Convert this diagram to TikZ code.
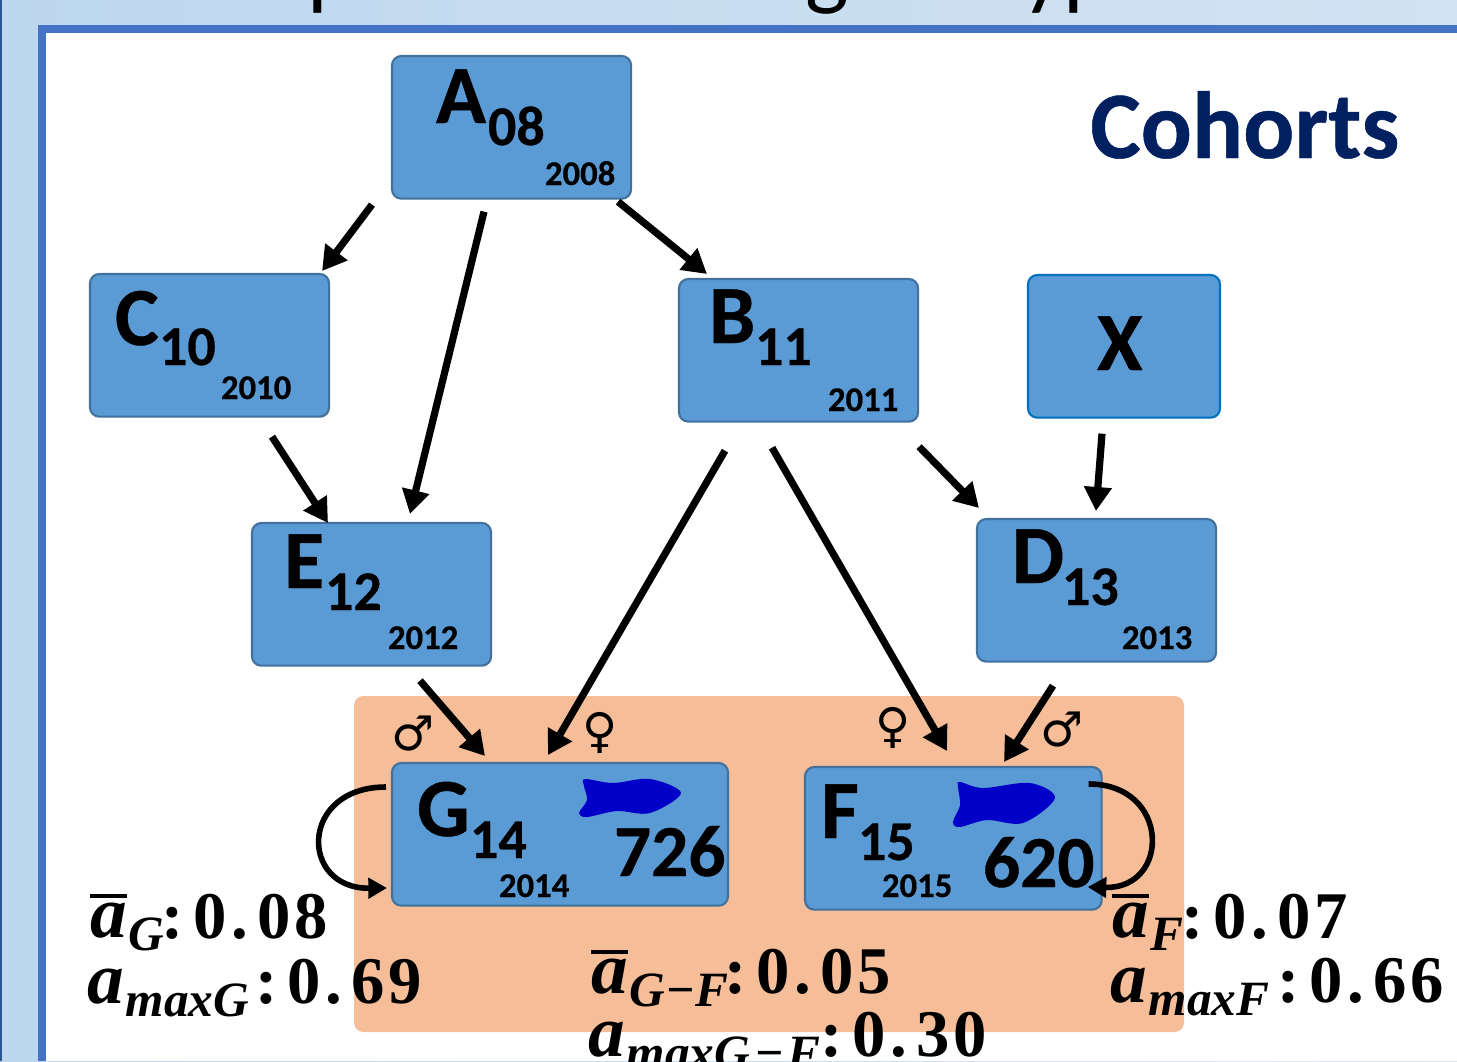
\documentclass[tikz,border=0pt]{standalone}
\usepackage{fontspec}
\usetikzlibrary{arrows.meta,calc}
\setmainfont{Carlito}[BoldFeatures={FakeBold=0.5}]
\newfontfamily\symfont{DejaVu Sans}
\newfontfamily\statfont{Liberation Serif}
\newcommand{\pxf}[1]{\fontsize{#1}{#1}\selectfont}
\newcommand{\stA}{{\pxf{55}\bfseries\itshape a}}
\newcommand{\stBar}{\rlap{\raisebox{29pt}{\rule{28pt}{3pt}}}\stA}
\newcommand{\stSub}[1]{\kern1.5pt\raisebox{-10pt}{\pxf{37}\bfseries\itshape #1}}
\newcommand{\stVal}[3]{{\pxf{50}\bfseries :\kern8pt 0\kern3pt.\kern7pt #2\kern3pt #3}}
\definecolor{bgleft}{HTML}{BDD7EE}
\definecolor{bgright}{HTML}{D2E3F3}
\definecolor{edgedark}{HTML}{2F5597}
\definecolor{boxfill}{HTML}{5B9BD5}
\definecolor{boxedge}{HTML}{41719C}
\definecolor{xedge}{HTML}{0070C0}
\definecolor{framecol}{HTML}{4472C4}
\definecolor{orangebg}{HTML}{F5BD98}
\definecolor{fishcol}{HTML}{0000C8}
\definecolor{cohortcol}{HTML}{002060}
\tikzset{
  x=0.75pt,y=-0.75pt,
  cbox/.style={draw=boxedge,fill=boxfill,line width=1.6pt,rounded corners=7pt,inner sep=0pt,outer sep=0pt,anchor=north west},
  lett/.style={anchor=base west,inner sep=0pt,outer sep=0pt,font=\pxf{62}\bfseries},
  subn/.style={anchor=base west,inner sep=0pt,outer sep=0pt,font=\pxf{42}\bfseries},
  yearn/.style={anchor=base west,inner sep=0pt,outer sep=0pt,font=\pxf{26}\bfseries},
  countn/.style={anchor=base west,inner sep=0pt,outer sep=0pt,font=\pxf{55}\bfseries},
  gend/.style={inner sep=0pt,outer sep=0pt,font=\symfont\pxf{36}},
  stat/.style={anchor=base west,inner sep=0pt,outer sep=0pt,font=\statfont},
  conn/.style={line width=5.4pt,-{Triangle[length=18pt,width=20pt]},black},
  loopc/.style={line width=4.2pt,-{Triangle[length=14pt,width=15pt]},black},
  fish/.style={fill=fishcol,draw=none},
}
\begin{document}
\begin{tikzpicture}
\useasboundingbox (0,0) rectangle (1457,1061);
\begin{scope}
\clip (0,0) rectangle (1457,1061);
\shade[left color=bgleft,right color=bgright] (0,0) rectangle (1457,1061);
\fill[edgedark] (0,0) rectangle (2,1061);
\node[anchor=base west,inner sep=0pt,font=\pxf{69}] (title) at (146,-2) {Use parents of ungenotyped adults};
\fill[framecol] (38,25) rectangle (1457,1061);
\fill[white] (46,33) rectangle (1457,1061);
\fill[orangebg,rounded corners=7pt] (354,696) rectangle (1184,1032);
\node[cbox,minimum width=179.3pt,minimum height=107pt] (A) at (392,56) {};
\node[cbox,minimum width=179.3pt,minimum height=107pt] (C) at (90,274) {};
\node[cbox,minimum width=179.3pt,minimum height=107pt] (B) at (679,279) {};
\node[cbox,draw=xedge,minimum width=144pt,minimum height=107pt] (X) at (1028,275) {};
\node[cbox,minimum width=179.3pt,minimum height=107pt] (E) at (252,523) {};
\node[cbox,minimum width=179.3pt,minimum height=107pt] (D) at (977,519) {};
\node[cbox,minimum width=252pt,minimum height=107pt] (G) at (392,763) {};
\node[cbox,minimum width=222.5pt,minimum height=107pt] (F) at (805,767) {};
\node[lett] (Al) at (436,123) {A};
\node[subn] (As) at (488,145) {08};
\node[yearn] (Ay) at (545,185) {2008};
\node[lett] (Cl) at (115,345) {C};
\node[subn] (Cs) at (159,365) {10};
\node[yearn] (Cy) at (221,399) {2010};
\node[lett] (Bl) at (709,343) {B};
\node[subn] (Bs) at (755,365) {11};
\node[yearn] (By) at (828,411) {2011};
\node[lett] (Xl) at (1097,370) {X};
\node[lett] (El) at (284,588) {E};
\node[subn] (Es) at (325,610) {12};
\node[yearn] (Ey) at (388,649) {2012};
\node[lett] (Dl) at (1012,583) {D};
\node[subn] (Ds) at (1062,605) {13};
\node[yearn] (Dy) at (1122,649) {2013};
\node[lett] (Gl) at (417,836) {G};
\node[subn] (Gs) at (470,858) {14};
\node[yearn] (Gy) at (499,897) {2014};
\node[countn] (Gc) at (614,876) {726};
\node[lett] (Fl) at (821,838) {F};
\node[subn] (Fs) at (858,860) {15};
\node[yearn] (Fy) at (882,897) {2015};
\node[countn] (Fc) at (983,887) {620};
\node[font=\pxf{71.5}\bfseries,text=cohortcol,anchor=base west,inner sep=0pt] (cohorts) at (1090,158) {Cohorts};
\fill[fish] plot[smooth cycle,tension=.55] coordinates {(585,779) (613,783) (650,779) (681,793) (650,813) (617,811) (587,817) (579,813) (587,800) (584,786)};
\fill[fish] plot[smooth cycle,tension=.55] coordinates {(960,782) (983,788) (1030,783) (1055,798) (1023,823) (987,820) (960,827) (953,822) (960,805) (958,787)};
\node[gend] (m1) at (413,734) {♂};
\node[gend] (f1) at (600,733) {♀};
\node[gend] (f2) at (893,728) {♀};
\node[gend] (m2) at (1062,730) {♂};
\draw[conn] ($(A.south west)+(-20,6)$) -- ($(C.north east)+(-7,-3)$);
\draw[conn] ($(A.south west)+(92,13)$) -- ($(E.north west)+(158,-9)$);
\draw[conn] ($(A.south east)+(-13,3)$) -- ($(B.north west)+(28,-5)$);
\draw[conn] ($(C.south west)+(182,20)$) -- ($(E.north west)+(76,0)$);
\draw[conn] ($(B.south west)+(46,29)$) -- ($(G.north west)+(156,-8)$);
\draw[conn] ($(B.south west)+(93,26)$) -- ($(F.north west)+(142,-16)$);
\draw[conn] ($(B.south east)+(1,25)$) -- ($(D.north west)+(2,-11)$);
\draw[conn] ($(X.south west)+(74,16)$) -- ($(D.north west)+(119,-8)$);
\draw[conn] ($(E.south west)+(168,15)$) -- ($(G.north west)+(93,-7)$);
\draw[conn] ($(D.south west)+(76,24)$) -- ($(F.north west)+(199,-5)$);
\draw[loopc] ($(G.north west)+(-6,24)$) .. controls ($(G.north west)+(-93,24)$) and ($(G.north west)+(-93,126)$) .. ($(G.north west)+(-5,125)$);
\draw[loopc] ($(F.north east)+(-13,17)$) .. controls ($(F.north east)+(69,17)$) and ($(F.north east)+(69,122)$) .. ($(F.north east)+(-14,120)$);
\node[stat] (s1a) at (90,937) {\stBar\stSub{G}};
\node[stat] (s1v) at (161,938) {\stVal{0}{0}{8}};
\node[stat] (s2a) at (87,1003) {\stA\stSub{maxG}};
\node[stat] (s2v) at (255,1003) {\stVal{0}{6}{9}};
\node[stat] (s3a) at (591,993) {\stBar\stSub{G−F}};
\node[stat] (s3v) at (724,993) {\stVal{0}{0}{5}};
\node[stat] (s4a) at (588,1056) {\stA\stSub{maxG\kern3pt−\kern3pt F}};
\node[stat] (s4v) at (820,1056) {\stVal{0}{3}{0}};
\node[stat] (s5a) at (1112,937) {\stBar\stSub{F}};
\node[stat] (s5v) at (1181,938) {\stVal{0}{0}{7}};
\node[stat] (s6a) at (1110,1002) {\stA\stSub{maxF}};
\node[stat] (s6v) at (1277,1002) {\stVal{0}{6}{6}};
\end{scope}
\end{tikzpicture}
\end{document}
